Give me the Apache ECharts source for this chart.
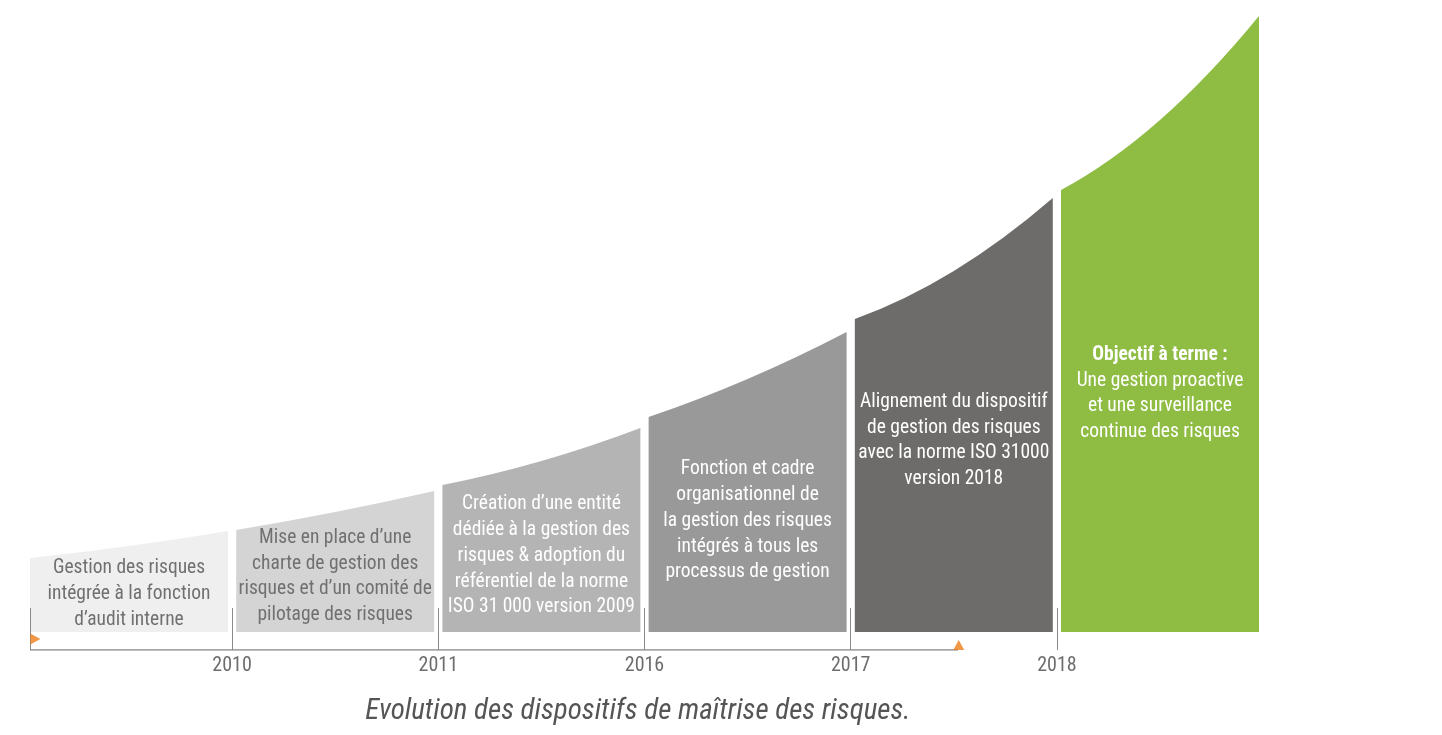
<!DOCTYPE html>
<html>
<head>
<meta charset="utf-8">
<script src="https://cdn.jsdelivr.net/npm/echarts@6/dist/echarts.min.js"></script>
<style>
html,body{margin:0;padding:0;background:#ffffff;}
#chart{width:1442px;height:735px;}
</style>
</head>
<body>
<div id="chart"></div>
<script>
// ---- data ----
const years = ['2010', '2011', '2016', '2017', '2018'];
const stages = [
  "Gestion des risques\nintégrée à la fonction\nd’audit interne",
  "Mise en place d’une\ncharte de gestion des\nrisques et d’un comité de\npilotage des risques",
  "Création d’une entité\ndédiée à la gestion des\nrisques & adoption du\nréférentiel de la norme\nISO 31 000 version 2009",
  "Fonction et cadre\norganisationnel de\nla gestion des risques\nintégrés à tous les\nprocessus de gestion",
  "Alignement du dispositif\nde gestion des risques\navec la norme ISO 31000\nversion 2018",
  "{b|Objectif à terme :}\nUne gestion proactive\net une surveillance\ncontinue des risques"
];
// maturity level at the start, middle and end of each stage
const levelStart = [74, 102, 147, 215, 313, 442];
const levelMid   = [86, 120, 171, 253, 361, 512];
const levelEnd   = [101, 141, 204, 300, 434, 616];
// timeline markers (stage position, level)
const markerStart = [0.046, -7];
const markerNow = [4.524, -13];
const timelineEnd = 4.52;

// ---- styles / layout ----
const colors = ['#efefef', '#d4d4d4', '#b4b4b4', '#999999', '#6d6c6a', '#8fbc43'];
const textColors = ['#707070', '#707070', '#ffffff', '#ffffff', '#ffffff', '#ffffff'];
const labelLevel = [38, 55.5, 76, 111, 191.5, 238.5];
const GAP = 0.02;
const FONT = "'Liberation Sans Narrow', 'Arial Narrow', 'Roboto Condensed', 'Liberation Sans', sans-serif";
const AXIS_BASE = -18;

const stageData = stages.map((t, i) => [i, levelStart[i], levelMid[i], levelEnd[i]]);

const chart = echarts.init(document.getElementById('chart'), null, { renderer: 'canvas' });

const option = {
  backgroundColor: '#ffffff',
  animation: false,
  grid: { left: 25.9, right: 178.9, top: 0, bottom: 85 },
  xAxis: {
    type: 'value', min: 0, max: 6, position: 'bottom', z: 5,
    axisLine: { show: false, onZero: false },
    axisTick: {
      show: true, inside: true, length: 42,
      customValues: [GAP, 1, 2, 3, 4, 5],
      lineStyle: { color: '#8a8a8a', width: 1 }
    },
    axisLabel: {
      customValues: [1, 2, 3, 4, 5],
      formatter: v => years[Math.round(v) - 1],
      color: '#6d6d6d', fontSize: 20, fontFamily: FONT, margin: 6
    },
    splitLine: { show: false }
  },
  yAxis: { type: 'value', min: AXIS_BASE, max: 632, show: false },
  graphic: [{
    type: 'text', x: 638, y: 712,
    style: {
      text: 'Evolution des dispositifs de maîtrise des risques.',
      fill: '#555555', fontSize: 29, fontStyle: 'italic', fontFamily: FONT,
      align: 'center', verticalAlign: 'middle'
    }
  }],
  series: [
    {
      type: 'custom', z: 2,
      data: stageData,
      renderItem: function (params, api) {
        const idx = params.dataIndex;
        const i = api.value(0);
        const x0 = i + GAP, x1 = i + 1 - GAP;
        const b0 = api.coord([x0, 0]), b1 = api.coord([x1, 0]);
        const pL = api.coord([x0, api.value(1)]);
        const pM = api.coord([(x0 + x1) / 2, api.value(2)]);
        const pR = api.coord([x1, api.value(3)]);
        const cx = 2 * pM[0] - (pL[0] + pR[0]) / 2;
        const cy = 2 * pM[1] - (pL[1] + pR[1]) / 2;
        const d = 'M' + b0[0] + ' ' + b0[1] + ' L' + pL[0] + ' ' + pL[1] +
          ' Q' + cx + ' ' + cy + ' ' + pR[0] + ' ' + pR[1] +
          ' L' + b1[0] + ' ' + b1[1] + ' Z';
        const ty = api.coord([0, labelLevel[idx]])[1];
        return {
          type: 'group',
          children: [
            { type: 'path', shape: { pathData: d }, style: { fill: colors[idx] } },
            {
              type: 'text', x: pM[0], y: ty,
              style: {
                text: stages[idx],
                fill: textColors[idx], fontSize: 19.5, fontFamily: FONT,
                lineHeight: 25.7, align: 'center', verticalAlign: 'middle',
                rich: { b: { fontWeight: 'bold', fontSize: 19.5, fontFamily: FONT, fill: textColors[idx], lineHeight: 25.7 } }
              }
            }
          ]
        };
      }
    },
    {
      type: 'line', silent: true, z: 4,
      data: [[GAP, AXIS_BASE], [timelineEnd, AXIS_BASE]],
      showSymbol: false, symbol: 'none',
      lineStyle: { color: '#8a8a8a', width: 1.5 }
    },
    {
      type: 'scatter', silent: true, z: 6,
      symbol: 'triangle', symbolSize: [11, 10],
      itemStyle: { color: '#ee7d1a' },
      data: [
        { value: markerStart, symbolRotate: -90 },
        { value: markerNow, symbolRotate: 0 }
      ]
    }
  ]
};
chart.setOption(option);
</script>
</body>
</html>
